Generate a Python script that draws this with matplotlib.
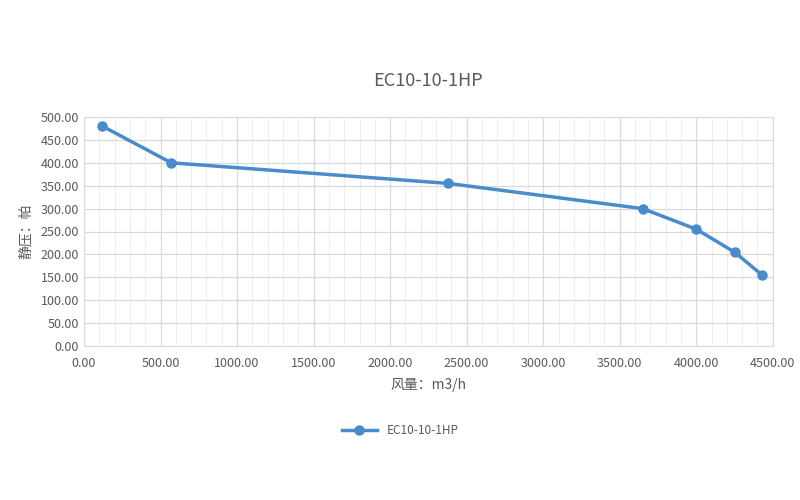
import matplotlib
matplotlib.use("Agg")
import matplotlib.pyplot as plt
from matplotlib.ticker import MultipleLocator, FormatStrFormatter

plt.rcParams["font.family"] = ["Noto Sans CJK SC", "DejaVu Sans"]

# data
airflow = [120, 570, 2380, 3650, 4000, 4250, 4430]
pressure = [480, 400, 355, 300, 255, 205, 155]
series_name = "EC10-10-1HP"
title = "EC10-10-1HP"
xlabel = "风量：m3/h"
ylabel = "静压：帕"

text_color = "#595959"
line_color = "#4a8bcb"
grid_color = "#d9d9d9"

fig = plt.figure(figsize=(8, 5), dpi=100)
ax = fig.add_axes([0.105, 0.308, 0.861, 0.458])

ax.plot(airflow, pressure, "o-", color=line_color, linewidth=2.5,
        markersize=6.5, label=series_name)

ax.set_xlim(0, 4500)
ax.set_ylim(0, 500)
ax.xaxis.set_major_locator(MultipleLocator(500))
ax.xaxis.set_minor_locator(MultipleLocator(100))
ax.yaxis.set_major_locator(MultipleLocator(50))
ax.xaxis.set_major_formatter(FormatStrFormatter("%.2f"))
ax.yaxis.set_major_formatter(FormatStrFormatter("%.2f"))

ax.grid(True, which="major", color=grid_color, linewidth=0.9)
ax.grid(True, which="minor", axis="x", color="#ececec", linewidth=0.7)
ax.set_axisbelow(True)
for s in ax.spines.values():
    s.set_color(grid_color)
ax.tick_params(which="both", length=0, colors=text_color, labelsize=9)
ax.tick_params(axis="x", pad=8)

ax.set_title(title, color=text_color, fontsize=13, pad=22)
ax.set_xlabel(xlabel, color=text_color, fontsize=10, labelpad=6)
ax.set_ylabel(ylabel, color=text_color, fontsize=10, labelpad=6)

fig.legend(loc="center", bbox_to_anchor=(0.5, 0.138), frameon=False,
           fontsize=8.5, labelcolor=text_color, handlelength=3)

fig.savefig("out.png", dpi=100, facecolor="white")
